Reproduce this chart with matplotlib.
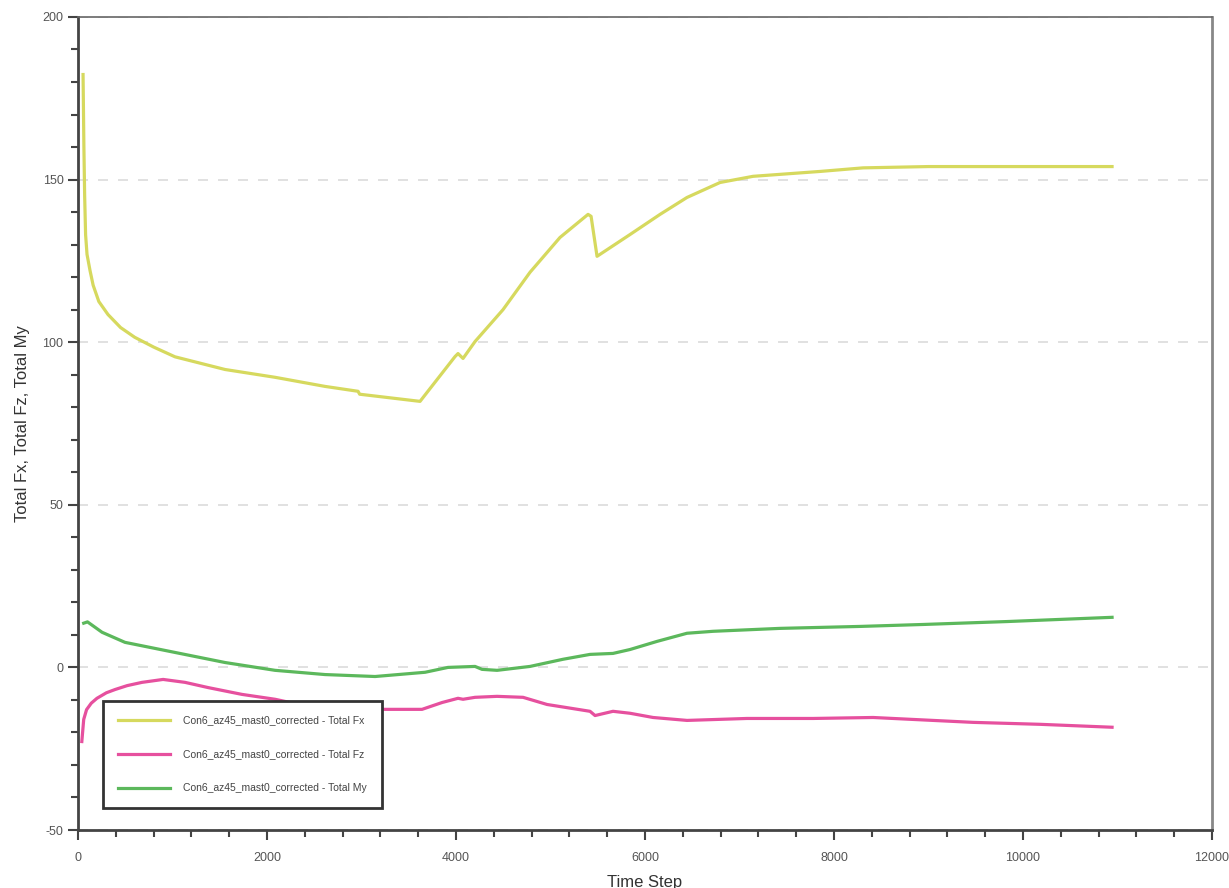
import numpy as np
import matplotlib
matplotlib.use("Agg")
import matplotlib.pyplot as plt
from matplotlib.ticker import MultipleLocator

plt.rcParams["axes.unicode_minus"] = False
plt.rcParams["font.family"] = ["Liberation Sans", "DejaVu Sans"]

# Total Fx
fx_t = [53, 62, 70, 80, 95, 127, 160, 220, 317, 450, 600, 800, 1026, 1556, 2085, 2614, 2963, 2980,
        3619, 3990, 4021, 4074, 4201, 4497, 4783, 5100, 5397, 5429, 5492, 5841, 6159,
        6444, 6794, 7143, 7852, 8307, 9000, 10000, 10942]
fx_v = [182.3, 160, 145, 133, 127, 122, 117.5, 112.5, 108.5, 104.5, 101.5, 98.5, 95.5, 91.6, 89.2, 86.4, 84.9, 84.0,
        81.8, 95.6, 96.5, 95.0, 100.2, 110, 121.5, 132.2, 139.3, 138.7, 126.4, 133.1, 139.3,
        144.5, 149.1, 151, 152.5, 153.6, 154, 154, 154]

# Total Fz
fz_t = [40, 60, 90, 140, 200, 300, 392, 520, 677, 900, 1132, 1376, 1735, 2085, 2434, 3249, 3640, 3852, 4021,
        4074, 4201, 4434, 4709, 4963, 5418, 5471, 5661, 5841, 6085, 6444, 7079, 7778,
        8413, 9471, 10180, 10942]
fz_v = [-22.8, -16, -13, -11, -9.5, -7.8, -6.8, -5.6, -4.6, -3.7, -4.6, -6.2, -8.3, -9.8, -12.0, -12.9, -12.9, -10.8, -9.5,
        -9.8, -9.2, -8.9, -9.2, -11.4, -13.5, -14.8, -13.5, -14.1, -15.4, -16.3, -15.7, -15.7,
        -15.4, -16.9, -17.5, -18.4]

# Total My
my_t = [60, 100, 254, 497, 1026, 1556, 2085, 2614, 3143, 3672, 3915, 4201, 4275, 4434, 4783,
        5132, 5418, 5661, 5841, 6127, 6444, 6720, 7428, 8275, 8942, 9831, 10942]
my_v = [13.6, 14.0, 10.8, 7.7, 4.6, 1.5, -0.9, -2.2, -2.8, -1.5, 0.0, 0.3, -0.6, -0.9, 0.3,
        2.5, 4.0, 4.3, 5.5, 8.0, 10.5, 11.1, 12.0, 12.6, 13.2, 14.1, 15.4]

labels = ["Con6_az45_mast0_corrected - Total Fx",
          "Con6_az45_mast0_corrected - Total Fz",
          "Con6_az45_mast0_corrected - Total My"]
colors = ["#d6d95e", "#e6509e", "#5cb85c"]

fig = plt.figure(figsize=(12.29, 8.88), dpi=100)
ax = fig.add_axes([0.0635, 0.0653, 0.9227, 0.9156])

ax.plot(fx_t, fx_v, color=colors[0], lw=2.3, label=labels[0])
ax.plot(fz_t, fz_v, color=colors[1], lw=2.3, label=labels[1])
ax.plot(my_t, my_v, color=colors[2], lw=2.3, label=labels[2])

ax.set_xlim(0, 12000)
ax.set_ylim(-50, 200)
ax.xaxis.set_major_locator(MultipleLocator(2000))
ax.xaxis.set_minor_locator(MultipleLocator(400))
ax.yaxis.set_major_locator(MultipleLocator(50))
ax.yaxis.set_minor_locator(MultipleLocator(10))

ax.yaxis.grid(True, which="major", color="#dcdcdc", linestyle=(0, (6, 6)), lw=1.2)
ax.set_axisbelow(True)

for s in ax.spines.values():
    s.set_color("#444444")
    s.set_linewidth(2)
ax.spines["right"].set_color("#888888")
ax.spines["top"].set_color("#666666")
ax.spines["top"].set_linewidth(1.2)

ax.tick_params(which="major", direction="out", length=7, width=1.5, color="#444444",
               labelsize=9, labelcolor="#555555")
ax.tick_params(axis="x", which="major", pad=9)
ax.tick_params(which="minor", direction="out", length=5, width=1.5, color="#444444")
ax.tick_params(axis="x", which="both", top=False)
ax.tick_params(axis="y", which="both", right=False)

ax.set_xlabel("Time Step", fontsize=12, color="#333333", labelpad=8)
ax.set_ylabel("Total Fx, Total Fz, Total My", fontsize=12, color="#333333", labelpad=9)

leg = ax.legend(loc="lower left", bbox_to_anchor=(0.022, 0.027), borderaxespad=0,
                fontsize=7.5, handlelength=5, labelspacing=2.3, borderpad=1.4,
                handletextpad=1.3, fancybox=False, framealpha=1, edgecolor="#333333")
leg.get_frame().set_linewidth(2)
for t in leg.get_texts():
    t.set_color("#444444")

fig.savefig("out.png", dpi=100)
